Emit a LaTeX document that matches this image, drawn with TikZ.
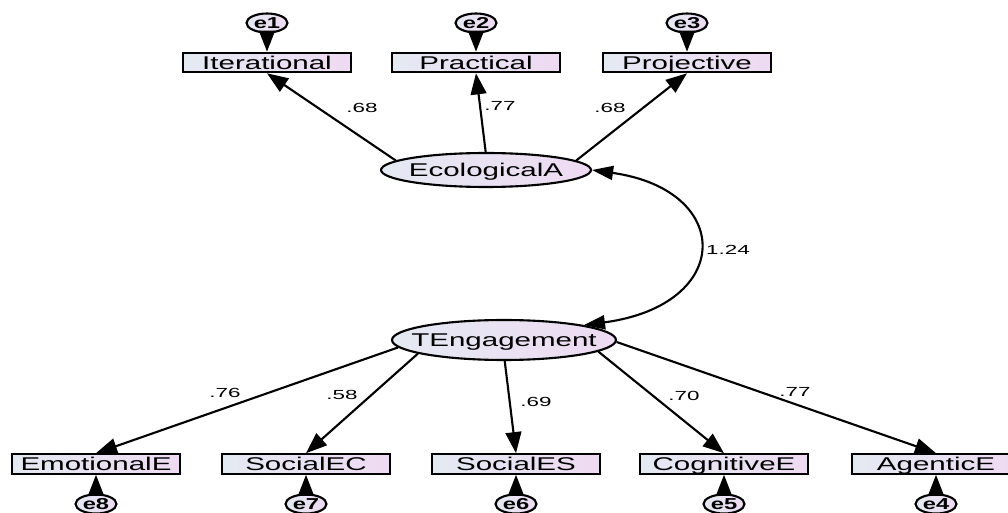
\documentclass[tikz,border=0pt]{standalone}
\usepackage{fontspec}
\setmainfont{Liberation Sans}
\usetikzlibrary{arrows.meta,shapes.geometric}
\definecolor{boxleft}{RGB}{228,234,242}
\definecolor{boxright}{RGB}{238,218,242}
% stretched text, no width of its own
\newcommand{\wtxt}[2][1.6]{\makebox[0pt]{\scalebox{#1}[1]{#2}}}
\tikzset{
  obs/.style={draw, line width=1.2pt, left color=boxleft, right color=boxright,
    minimum width=3.36cm, minimum height=0.39cm, inner sep=0pt,
    text height=7.5pt, text depth=0pt, font=\fontsize{10.5}{12}\selectfont},
  lat/.style={ellipse, draw, line width=1.2pt, left color=boxleft, right color=boxright,
    inner sep=0pt, text height=7.5pt, text depth=0pt, font=\fontsize{10.5}{12}\selectfont},
  err/.style={ellipse, draw, line width=1.2pt, left color=boxleft, right color=boxright,
    minimum width=0.82cm, minimum height=0.38cm, inner sep=0pt,
    text height=6.3pt, text depth=0pt, font=\bfseries\fontsize{9}{10}\selectfont},
  load/.style={line width=1.2pt, -{Triangle[length=12pt,width=9pt]}},
  covar/.style={line width=1.2pt, {Triangle[length=12pt,width=8pt]}-{Triangle[length=12pt,width=8pt]}},
  coef/.style={inner sep=0pt, font=\fontsize{7.5}{9}\selectfont}
}
\begin{document}
\begin{tikzpicture}[x=0.02cm, y=-0.02cm]
  \useasboundingbox (0,0) rectangle (1008,513);
  % latent variables
  \node[lat, minimum width=4.2cm, minimum height=0.68cm] (Eco) at (486,170) {\wtxt{EcologicalA}};
  \node[lat, minimum width=4.48cm, minimum height=0.8cm] (TE) at (504,340) {\wtxt{TEngagement}};
  % indicators
  \node[obs] (Iter) at (267,62.5) {\wtxt{Iterational}};
  \node[obs] (Prac) at (476,62.5) {\wtxt{Practical}};
  \node[obs] (Proj) at (687,62.5) {\wtxt{Projective}};
  \node[obs] (EmoE) at (96,464) {\wtxt{EmotionalE}};
  \node[obs] (SocEC) at (306,464) {\wtxt{SocialEC}};
  \node[obs] (SocES) at (516,464) {\wtxt{SocialES}};
  \node[obs] (CogE) at (724,464) {\wtxt{CognitiveE}};
  \node[obs] (AgeE) at (936,464) {\wtxt{AgenticE}};
  % errors
  \node[err] (e1) at (267,23) {\wtxt[1.5]{e1}};
  \node[err] (e2) at (476,23) {\wtxt[1.5]{e2}};
  \node[err] (e3) at (687,23) {\wtxt[1.5]{e3}};
  \node[err] (e8) at (96,504) {\wtxt[1.5]{e8}};
  \node[err] (e7) at (306,504) {\wtxt[1.5]{e7}};
  \node[err] (e6) at (516,504) {\wtxt[1.5]{e6}};
  \node[err] (e5) at (724,504) {\wtxt[1.5]{e5}};
  \node[err] (e4) at (936,504) {\wtxt[1.5]{e4}};
  \begin{scope}[load]
    \draw (e1) to (Iter);
    \draw (e2) to (Prac);
    \draw (e3) to (Proj);
    \draw (e8) to (EmoE);
    \draw (e7) to (SocEC);
    \draw (e6) to (SocES);
    \draw (e5) to (CogE);
    \draw (e4) to (AgeE);
    \draw (Eco.174) to (Iter.south);
    \draw (Eco.91) to (Prac.south);
    \draw (Eco.6) to (Proj.south);
    \draw (TE.184) to (EmoE.north);
    \draw (TE.189) to (SocEC.north);
    \draw (TE.272) to (SocES.north);
    \draw (TE.353) to (CogE.north);
    \draw (TE.359) to (AgeE.north);
  \end{scope}
  \draw[covar] (Eco.east) .. controls (734,190) and (734,305) .. (TE.north east);
  % estimates
  \node[coef] (r) at (728,250) {\wtxt[1.7]{1.24}};
  \node[coef] (l1) at (362,108) {\wtxt[1.7]{.68}};
  \node[coef] (l2) at (500,106) {\wtxt[1.7]{.77}};
  \node[coef] (l3) at (610,108) {\wtxt[1.7]{.68}};
  \node[coef] (l8) at (225,393) {\wtxt[1.7]{.76}};
  \node[coef] (l7) at (342,395) {\wtxt[1.7]{.58}};
  \node[coef] (l6) at (536,402) {\wtxt[1.7]{.69}};
  \node[coef] (l5) at (684,396) {\wtxt[1.7]{.70}};
  \node[coef] (l4) at (795,392) {\wtxt[1.7]{.77}};
\end{tikzpicture}
\end{document}
